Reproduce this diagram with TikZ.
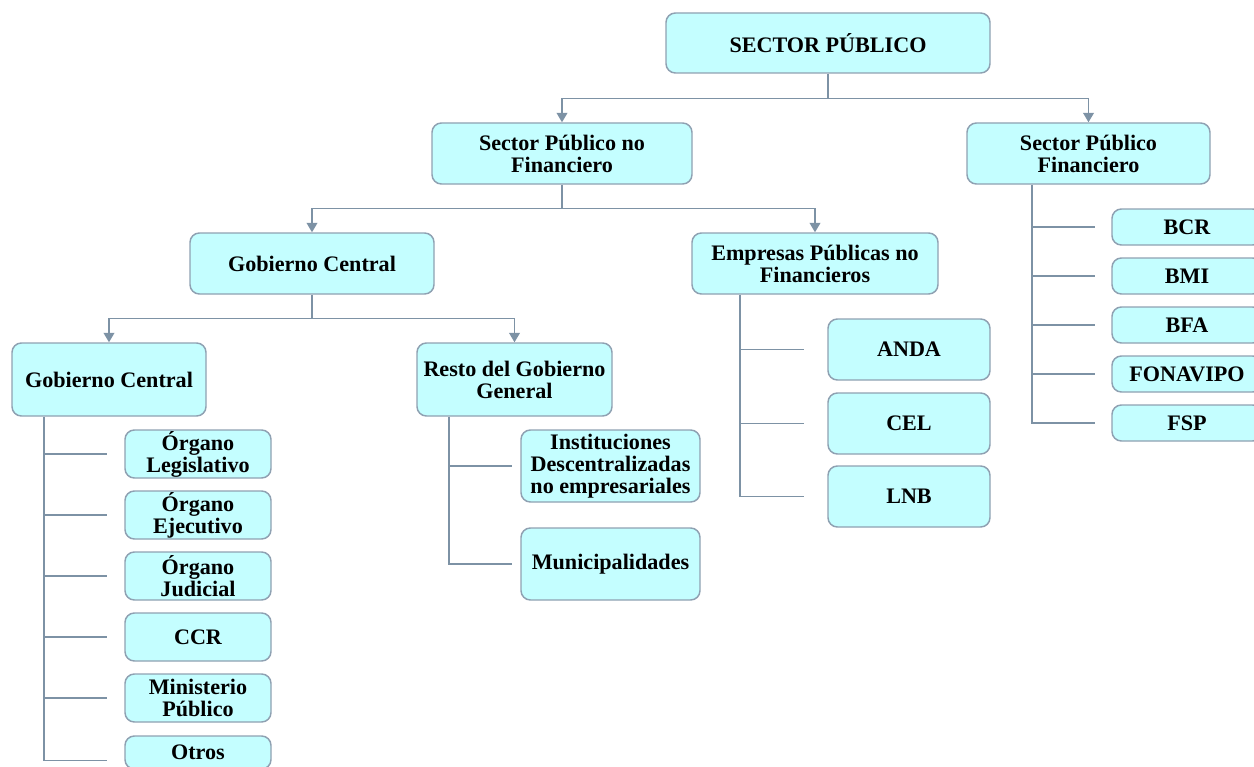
\documentclass[tikz,border=0pt]{standalone}
\usepackage{fontspec}
\setmainfont{Liberation Serif}
\usetikzlibrary{arrows.meta,calc}
\definecolor{boxfill}{HTML}{C4FEFF}
\definecolor{boxline}{HTML}{8FA1B2}
\definecolor{conncol}{HTML}{7D92A5}
\tikzset{
  bx/.style={draw=boxline, fill=boxfill, line width=1.1pt, rounded corners=7pt,
    inner sep=0pt, align=center, font=\fontsize{16.6}{16.5}\selectfont\bfseries},
  conn/.style={draw=conncol, line width=1.1pt},
  arr/.style={conn, -{Triangle[length=7pt,width=8pt]}}
}
\newcommand{\bx}[6]{\node[bx, minimum width={(#4-#2)*0.75pt}, minimum height={(#5-#3)*0.75pt}] (#1) at ({(#2+#4)/2},{(#3+#5)/2}) {#6};}
\begin{document}
\begin{tikzpicture}[x=0.75pt,y=-0.75pt]
\useasboundingbox (0,0) rectangle (1254,767);
% boxes
\bx{sp}{666}{13}{990}{73}{SECTOR PÚBLICO}
\bx{spnf}{432}{123}{692}{184}{Sector Público no\\Financiero}
\bx{spf}{967}{123}{1210}{184}{Sector Público\\Financiero}
\bx{gcu}{190}{233}{434}{294}{Gobierno Central}
\bx{epnf}{692}{233}{938}{294}{Empresas Públicas no\\Financieros}
\bx{gcl}{12}{343}{206}{416}{Gobierno Central}
\bx{rgg}{417}{343}{612}{416}{Resto del Gobierno\\General}
\bx{ol}{125}{430}{271}{478}{Órgano\\Legislativo}
\bx{oe}{125}{491}{271}{539}{Órgano\\Ejecutivo}
\bx{oj}{125}{552}{271}{600}{Órgano\\Judicial}
\bx{ccr}{125}{613}{271}{661}{CCR}
\bx{mp}{125}{674}{271}{722}{Ministerio\\Público}
\bx{otros}{125}{736}{271}{769}{Otros}
\bx{idne}{521}{430}{700}{502}{Instituciones\\Descentralizadas\\no empresariales}
\bx{muni}{521}{528}{700}{600}{Municipalidades}
\bx{anda}{828}{319}{990}{380}{ANDA}
\bx{cel}{828}{393}{990}{454}{CEL}
\bx{lnb}{828}{466}{990}{527}{LNB}
\bx{bcr}{1112}{209}{1262}{245}{BCR}
\bx{bmi}{1112}{258}{1262}{294}{BMI}
\bx{bfa}{1112}{307}{1262}{343}{BFA}
\bx{fona}{1112}{356}{1262}{392}{FONAVIPO}
\bx{fsp}{1112}{405}{1262}{441}{FSP}
% arrows
\draw[conn] (sp.south) -- ++(0,25) coordinate (j1);
\draw[arr] (j1) -| (spnf.north);
\draw[arr] (j1) -| (spf.north);
\draw[conn] (spnf.south) -- ++(0,24) coordinate (j2);
\draw[arr] (j2) -| (gcu.north);
\draw[arr] (j2) -| (epnf.north);
\draw[conn] (gcu.south) -- ++(0,24) coordinate (j3);
\draw[arr] (j3) -| (gcl.north);
\draw[arr] (j3) -| (rgg.north);
% trunks
\coordinate (t1) at (44,0);
\coordinate (t2) at (449,0);
\coordinate (t3) at (740,0);
\coordinate (t4) at (1032,0);
\foreach \c in {ol,oe,oj,ccr,mp}{\coordinate (e\c) at ($(\c.west)+(-17,0)$);}
\coordinate (eotros) at ($(otros.west)+(-17,8)$);
\foreach \c in {idne,muni}{\coordinate (e\c) at ($(\c.west)+(-8,0)$);}
\foreach \c in {anda,cel,lnb}{\coordinate (e\c) at ($(\c.west)+(-23,0)$);}
\foreach \c in {bcr,bmi,bfa,fona,fsp}{\coordinate (e\c) at ($(\c.west)+(-16,0)$);}
\draw[conn] (gcl.south -| t1) |- (eotros);
\foreach \c in {ol,oe,oj,ccr,mp}{\draw[conn] (e\c -| t1) -- (e\c);}
\draw[conn] (rgg.south -| t2) |- (emuni);
\draw[conn] (eidne -| t2) -- (eidne);
\draw[conn] (epnf.south -| t3) |- (elnb);
\foreach \c in {anda,cel}{\draw[conn] (e\c -| t3) -- (e\c);}
\draw[conn] (spf.south -| t4) |- (efsp);
\foreach \c in {bcr,bmi,bfa,fona}{\draw[conn] (e\c -| t4) -- (e\c);}
\end{tikzpicture}
\end{document}
